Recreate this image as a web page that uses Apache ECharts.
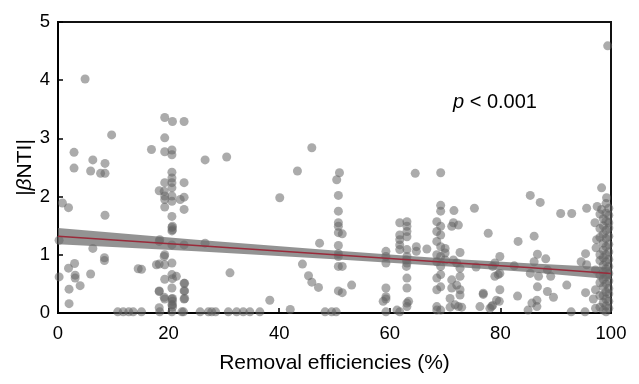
<!DOCTYPE html>
<html><head><meta charset="utf-8">
<script src="https://cdn.jsdelivr.net/npm/echarts@6/dist/echarts.min.js"></script>
<style>html,body{margin:0;padding:0;background:#fff}#c{width:639px;height:384px}</style>
</head><body><div id="c"></div>
<script>
// Removal efficiency (%) and |βNTI| for each sample
const efficiency = [
 4.9,9.7,2.9,6.3,8.5,2.9,5.9,7.7,8.5,0.8,1.9,8.5,0.2,6.3,8.4,8.4,3.0,1.9,0.2,3.1,3.1,5.9,4.0,2.0,2.0,14.5,16.9,
 10.8,11.8,12.8,13.6,15.1,
 19.3,20.7,22.8,19.3,19.3,20.6,20.6,26.6,20.6,20.6,19.3,20.6,22.8,20.6,18.3,19.3,20.6,19.3,22.1,22.8,20.6,19.3,22.8,20.6,20.6,20.6,18.3,20.6,22.8,26.6,19.3,18.3,19.3,20.6,15.1,20.6,21.4,19.3,22.8,22.8,20.6,18.3,19.3,20.6,22.8,20.6,18.3,
 18.4,20.6,22.4,22.7,25.7,27.2,27.8,
 19.2,18.4,20.7,20.7,17.8,19.2,20.7,18.3,19.2,20.7,20.7,22.9,22.9,22.9,20.7,20.7,
 30.5,45.9,43.3,50.9,50.4,40.1,50.7,50.7,50.7,50.7,50.7,51.4,47.3,50.7,50.7,50.7,50.7,51.4,44.2,31.1,45.3,45.9,47.1,53.1,50.7,51.4,38.3,42.0,
 28.5,30.8,32.3,33.5,34.7,36.5,48.3,49.5,50.3,
 59.3,59.3,59.3,59.3,59.3,59.3,59.3,58.8,61.8,61.8,61.8,61.8,61.8,61.8,61.3,
 63.1,63.1,63.1,63.1,63.1,63.1,63.1,63.1,63.1,63.1,63.1,63.0,63.0,63.4,64.6,64.8,64.8,66.7,
 69.2,69.2,69.2,68.5,69.2,68.5,69.2,68.5,69.2,68.5,69.2,68.5,69.2,69.2,68.5,69.2,68.5,68.5,69.2,70.0,70.0,70.0,71.2,72.4,71.5,72.7,71.5,72.1,72.7,71.2,72.7,72.1,71.2,72.7,72.7,70.9,71.8,72.4,71.6,75.3,75.6,76.9,76.3,77.8,
 68.5,70.9,73.0,78.1,
 79.0,79.6,79.0,78.4,79.3,79.9,78.6,79.9,82.5,83.2,85.4,87.2,86.1,86.7,86.1,85.4,86.9,88.2,88.5,89.1,86.7,88.5,89.6,79.9,79.8,78.6,83.1,86.6,85.7,86.6,85.0,76.9,
 90.9,92.9,92.0,92.8,95.6,94.6,95.4,95.6,95.4,96.8,95.3,97.5,98.3,97.1,97.4,97.3,97.2,97.2,97.2,98.3,99.2,99.4,
 98.0,98.0,98.0,98.0,98.0,98.0,98.0,98.0,98.0,
 98.6,98.6,98.6,98.6,98.6,98.6,98.6,98.6,98.6,98.6,98.6,98.6,98.6,
 99.1,99.1,99.1,99.1,99.1,99.1,99.1,99.1,99.1,99.1,99.1,99.1,99.1,99.1,99.1,
 99.6,99.6,99.6,99.6,99.6,99.6,99.6,99.6,99.6,99.6,99.6,99.6,99.6,99.6,99.6
];
const betaNTI = [
 4.02,3.06,2.76,2.63,2.57,2.49,2.44,2.40,2.40,1.89,1.81,1.68,1.25,1.11,0.95,0.90,0.85,0.77,0.62,0.65,0.60,0.67,0.47,0.41,0.16,0.76,2.81,
 0.02,0.02,0.02,0.02,0.02,
 3.36,3.29,3.29,3.01,2.77,2.80,2.72,2.63,2.42,2.32,2.24,2.24,2.24,2.15,2.10,2.01,2.01,1.95,1.95,1.99,1.92,1.82,1.78,1.66,1.47,1.41,1.23,1.17,1.17,1.20,1.00,0.84,0.83,0.86,0.75,0.66,0.63,0.58,0.51,0.38,0.43,0.38,0.24,0.24,0.24,0.14,0.09,
 0.02,0.02,0.02,0.02,0.02,0.02,0.02,
 2.09,1.26,1.49,1.43,0.83,0.97,0.59,0.37,0.27,0.25,0.20,0.51,0.38,0.25,0.14,0.10,
 2.68,2.84,2.44,2.41,2.29,1.98,2.02,1.75,1.55,1.49,1.38,1.36,1.20,1.16,1.02,0.97,0.80,0.80,0.84,0.69,0.64,0.53,0.44,0.48,0.38,0.35,0.22,0.06,
 0.02,0.02,0.02,0.02,0.02,0.02,0.02,0.02,0.02,
 1.06,0.97,0.86,0.43,0.28,0.24,0.02,0.20,1.55,1.34,1.26,1.17,1.09,0.02,0.05,
 1.57,1.49,1.40,1.31,1.09,0.97,0.86,0.60,0.43,0.17,0.11,0.80,0.91,0.20,2.40,1.14,1.06,1.10,
 2.41,1.85,1.75,1.57,1.49,1.40,1.34,1.23,1.14,1.00,0.97,0.88,0.80,0.66,0.60,0.45,0.40,0.11,0.05,1.11,1.03,0.91,1.49,1.51,1.55,1.04,0.91,0.86,0.77,0.57,0.63,0.48,0.43,0.40,0.31,0.25,0.14,0.11,1.76,1.80,0.79,0.34,0.11,1.37,
 0.05,0.10,0.10,0.08,
 0.86,0.66,0.63,0.11,0.22,0.97,0.80,0.68,0.81,1.23,2.02,1.90,1.32,1.01,0.88,0.68,0.63,0.93,0.74,0.63,0.45,0.37,0.27,0.40,0.20,0.13,0.29,0.22,0.17,0.11,0.05,0.32,
 1.71,1.71,0.48,0.02,1.80,0.88,1.02,0.83,0.35,0.24,0.02,1.83,1.78,1.55,1.26,1.12,0.74,0.40,0.08,2.15,1.98,4.59,
 0.10,0.30,0.52,0.65,0.90,1.00,1.30,1.45,1.70,
 0.05,0.18,0.30,0.45,0.58,0.70,0.82,0.95,1.08,1.20,1.35,1.50,1.62,
 0.02,0.12,0.24,0.36,0.50,0.62,0.76,0.88,1.00,1.14,1.28,1.42,1.58,1.72,1.88,
 0.08,0.20,0.33,0.42,0.55,0.68,0.80,0.92,1.05,1.18,1.32,1.46,1.55,1.68,1.80
];
// Fitted regression line and its confidence band
const fitX = [0, 25, 50, 70, 85, 100];
const fitY = [1.32, 1.16, 1.00, 0.87, 0.78, 0.68];
const bandLow = [1.18, 1.06, 0.925, 0.805, 0.705, 0.58];
const bandHigh = [1.46, 1.26, 1.075, 0.935, 0.855, 0.78];
const xTicks = [0, 20, 40, 60, 80, 100];
const yTicks = [0, 1, 2, 3, 4, 5];

const points = efficiency.map((x, i) => [x, betaNTI[i]]);
const bandData = fitX.map((x, i) => [x, bandLow[i], bandHigh[i]]);
const fitLine = fitX.map((x, i) => [x, fitY[i]]);

const FONT = 'Liberation Sans, Arial, sans-serif';
const chart = echarts.init(document.getElementById('c'), null, {renderer: 'canvas'});
chart.setOption({
  animation: false,
  backgroundColor: '#fff',
  textStyle: {fontFamily: FONT},
  title: {
    text: '{i|p} < 0.001',
    left: 453, top: 92, padding: 0,
    textStyle: {fontFamily: FONT, fontSize: 20, fontWeight: 'normal', color: '#000',
      rich: {i: {fontFamily: FONT, fontSize: 20, fontStyle: 'italic', color: '#000'}}}
  },
  grid: {left: 58, right: 28, top: 22, bottom: 71, show: true, borderColor: '#111', borderWidth: 2, backgroundColor: 'transparent'},
  xAxis: {
    type: 'value', min: xTicks[0], max: xTicks[xTicks.length - 1], interval: 20,
    name: 'Removal efficiencies (%)', nameLocation: 'middle', nameGap: 40, nameMoveOverlap: false,
    nameTextStyle: {fontFamily: FONT, fontSize: 21, color: '#000'},
    axisLine: {show: true, lineStyle: {color: '#000', width: 2}},
    axisTick: {show: true, inside: true, length: 5, lineStyle: {color: '#000', width: 1.5}},
    axisLabel: {fontFamily: FONT, fontSize: 18.5, color: '#000', margin: 11},
    splitLine: {show: false}
  },
  yAxis: {
    type: 'value', min: yTicks[0], max: yTicks[yTicks.length - 1], interval: 1,
    name: '|{b|β}NTI|', nameLocation: 'middle', nameGap: 22, nameRotate: 90, nameMoveOverlap: false,
    nameTextStyle: {fontFamily: FONT, fontSize: 21, color: '#000',
      rich: {b: {fontFamily: FONT, fontSize: 21, fontStyle: 'italic', color: '#000'}}},
    axisLine: {show: true, lineStyle: {color: '#000', width: 2}},
    axisTick: {show: true, inside: true, length: 5, lineStyle: {color: '#000', width: 1.5}},
    axisLabel: {fontFamily: FONT, fontSize: 18.5, color: '#000', margin: 8},
    splitLine: {show: false}
  },
  series: [
    {type: 'scatter', data: points, symbol: 'circle', symbolSize: 9,
     itemStyle: {color: 'rgba(100,100,100,0.68)'}, z: 2},
    {type: 'custom', data: bandData, z: 3, silent: true,
     encode: {x: 0, y: [1, 2]},
     renderItem: function (params, api) {
       if (params.dataIndex !== 0) return null;
       const upper = [], lower = [];
       for (let i = 0; i < bandData.length; i++) {
         upper.push(api.coord([bandData[i][0], bandData[i][2]]));
         lower.unshift(api.coord([bandData[i][0], bandData[i][1]]));
       }
       return {type: 'polygon', shape: {points: upper.concat(lower), smooth: 0},
               style: {fill: 'rgba(105,105,105,0.72)'}};
     }},
    {type: 'line', data: fitLine, symbol: 'none',
     lineStyle: {color: '#9a2a3a', width: 1.5}, z: 4, silent: true}
  ]
});
</script>
</body></html>
